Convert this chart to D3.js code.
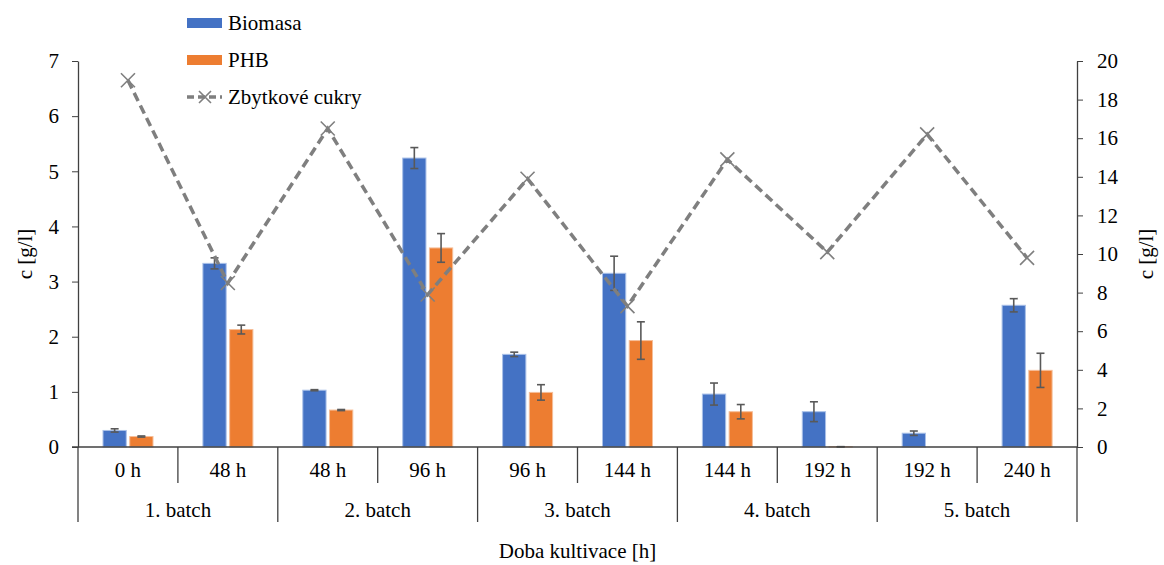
<!DOCTYPE html>
<html>
<head>
<meta charset="utf-8">
<script src="https://cdn.jsdelivr.net/npm/d3@7"></script>
<style>
  body { margin: 0; background: #fff; }
  svg text { font-family: "Liberation Serif", "DejaVu Serif", serif !important; }
</style>
</head>
<body>
<script>
// data
const hours = ["0 h", "48 h", "48 h", "96 h", "96 h", "144 h", "144 h", "192 h", "192 h", "240 h"];
const batches = ["1. batch", "2. batch", "3. batch", "4. batch", "5. batch"];
const biomasa = [0.30, 3.33, 1.03, 5.24, 1.68, 3.15, 0.96, 0.64, 0.25, 2.57];
const biomasaErr = [0.03, 0.10, 0.01, 0.19, 0.04, 0.31, 0.20, 0.18, 0.04, 0.12];
const phb = [0.19, 2.13, 0.67, 3.61, 0.99, 1.93, 0.64, 0.005, 0, 1.39];
const phbErr = [0.01, 0.08, 0.01, 0.26, 0.14, 0.34, 0.13, 0, 0, 0.31];
const cukry = [19.0, 8.5, 16.5, 7.9, 13.9, 7.3, 14.9, 10.1, 16.2, 9.8];
const leftTicks = [0, 1, 2, 3, 4, 5, 6, 7];
const rightTicks = [0, 2, 4, 6, 8, 10, 12, 14, 16, 18, 20];

const width = 1164, height = 565;
const mLeft = 78, mRight = 1077, mTop = 61, mBottom = 447;

const svg = d3.select("body").append("svg")
  .attr("width", width)
  .attr("height", height)
  .attr("font-family", "Liberation Serif");

const idx = d3.range(hours.length);

const x = d3.scaleBand()
  .domain(idx)
  .range([mLeft, mRight]);

const xInner = d3.scaleBand()
  .domain(["Biomasa", "PHB"])
  .range([25, 75])
  .paddingInner(0.13);

const y = d3.scaleLinear().domain([0, 7]).range([mBottom, mTop]);
const y2 = d3.scaleLinear().domain([0, 20]).range([mBottom, mTop]);

const axisColor = "#404040";
const fontSize = "21px";

// left axis
const yAxis = svg.append("g")
  .attr("transform", `translate(${mLeft},0)`)
  .call(d3.axisLeft(y).tickValues(leftTicks).tickFormat(d3.format("d"))
    .tickSize(6).tickPadding(13).tickSizeOuter(0));
yAxis.attr("font-family", "Liberation Serif");
yAxis.select(".domain").attr("stroke", axisColor).attr("stroke-width", 1.3);
yAxis.selectAll(".tick line").attr("stroke", axisColor);
yAxis.selectAll("text").attr("font-size", fontSize).attr("fill", "#000");

// right axis
const y2Axis = svg.append("g")
  .attr("transform", `translate(${mRight},0)`)
  .call(d3.axisRight(y2).tickValues(rightTicks).tickFormat(d3.format("d"))
    .tickSize(6).tickPadding(14).tickSizeOuter(0));
y2Axis.attr("font-family", "Liberation Serif");
y2Axis.select(".domain").attr("stroke", axisColor).attr("stroke-width", 1.3);
y2Axis.selectAll(".tick line").attr("stroke", axisColor);
y2Axis.selectAll("text").attr("font-size", fontSize).attr("fill", "#000");

// bars
const series = [
  { name: "Biomasa", values: biomasa, err: biomasaErr, color: "#4472C4", edge: "#A9C0E8" },
  { name: "PHB", values: phb, err: phbErr, color: "#ED7D31", edge: "#F6BE98" }
];

series.forEach(s => {
  svg.append("g").selectAll("rect")
    .data(idx)
    .join("rect")
    .attr("x", i => x(i) + xInner(s.name))
    .attr("y", i => y(s.values[i]))
    .attr("width", xInner.bandwidth())
    .attr("height", i => y(0) - y(s.values[i]))
    .attr("fill", s.color)
    .attr("stroke", s.edge)
    .attr("stroke-width", 1);

  // error bars
  const eg = svg.append("g").attr("stroke", "#595959").attr("stroke-width", 1.6);
  const ex = i => x(i) + xInner(s.name) + xInner.bandwidth() / 2;
  idx.filter(i => s.values[i] > 0.001).forEach(i => {
    const v = s.values[i], e = s.err[i];
    eg.append("line").attr("x1", ex(i)).attr("x2", ex(i))
      .attr("y1", y(v - e)).attr("y2", y(v + e));
    eg.append("line").attr("x1", ex(i) - 4).attr("x2", ex(i) + 4)
      .attr("y1", y(v - e)).attr("y2", y(v - e));
    eg.append("line").attr("x1", ex(i) - 4).attr("x2", ex(i) + 4)
      .attr("y1", y(v + e)).attr("y2", y(v + e));
  });
});

// x axis baseline
svg.append("line")
  .attr("x1", mLeft - 6).attr("x2", mRight)
  .attr("y1", mBottom).attr("y2", mBottom)
  .attr("stroke", axisColor).attr("stroke-width", 1.3);

// category separators
idx.slice(1).filter(i => i % 2 === 1).forEach(i => {
  svg.append("line")
    .attr("x1", x(i)).attr("x2", x(i))
    .attr("y1", mBottom).attr("y2", 483)
    .attr("stroke", axisColor).attr("stroke-width", 1.3);
});
d3.range(0, hours.length + 1, 2).forEach(i => {
  const xx = i < hours.length ? x(i) : mRight;
  svg.append("line")
    .attr("x1", xx).attr("x2", xx)
    .attr("y1", mBottom).attr("y2", 522)
    .attr("stroke", axisColor).attr("stroke-width", 1.3);
});

// hour labels
svg.append("g").selectAll("text")
  .data(idx)
  .join("text")
  .attr("x", i => x(i) + x.bandwidth() / 2)
  .attr("y", 477)
  .attr("text-anchor", "middle")
  .attr("font-size", fontSize)
  .text(i => hours[i]);

// batch labels
svg.append("g").selectAll("text")
  .data(batches)
  .join("text")
  .attr("x", (d, j) => x(j * 2) + x.bandwidth())
  .attr("y", 517)
  .attr("text-anchor", "middle")
  .attr("font-size", fontSize)
  .text(d => d);

// line for residual sugars
const lx = i => x(i) + x.bandwidth() / 2;
svg.append("path")
  .datum(idx)
  .attr("fill", "none")
  .attr("stroke", "#7F7F7F")
  .attr("stroke-width", 3.5)
  .attr("stroke-dasharray", "9,5")
  .attr("d", d3.line().x(lx).y(i => y2(cukry[i])));

const mk = 7;
svg.append("g").selectAll("path")
  .data(idx)
  .join("path")
  .attr("d", i => `M${lx(i) - mk},${y2(cukry[i]) - mk}L${lx(i) + mk},${y2(cukry[i]) + mk}M${lx(i) - mk},${y2(cukry[i]) + mk}L${lx(i) + mk},${y2(cukry[i]) - mk}`)
  .attr("stroke", "#7F7F7F")
  .attr("stroke-width", 1.6)
  .attr("fill", "none");

// axis titles
svg.append("text")
  .attr("transform", `translate(32,254) rotate(-90)`)
  .attr("text-anchor", "middle")
  .attr("font-size", fontSize)
  .text("c [g/l]");

svg.append("text")
  .attr("transform", `translate(1153,254) rotate(-90)`)
  .attr("text-anchor", "middle")
  .attr("font-size", fontSize)
  .text("c [g/l]");

svg.append("text")
  .attr("x", (mLeft + mRight) / 2)
  .attr("y", 558)
  .attr("text-anchor", "middle")
  .attr("font-size", fontSize)
  .text("Doba kultivace [h]");

// legend
const legend = svg.append("g").attr("transform", "translate(187,0)");
legend.append("rect").attr("x", 0).attr("y", 18).attr("width", 35).attr("height", 10).attr("fill", "#4472C4");
legend.append("text").attr("x", 41).attr("y", 30).attr("font-size", fontSize).text("Biomasa");
legend.append("rect").attr("x", 0).attr("y", 55).attr("width", 35).attr("height", 10).attr("fill", "#ED7D31");
legend.append("text").attr("x", 41).attr("y", 67).attr("font-size", fontSize).text("PHB");
legend.append("line").attr("x1", 0).attr("x2", 35).attr("y1", 97).attr("y2", 97)
  .attr("stroke", "#7F7F7F").attr("stroke-width", 3.5).attr("stroke-dasharray", "7,4");
legend.append("path").attr("d", "M12,91L24,103M12,103L24,91")
  .attr("stroke", "#7F7F7F").attr("stroke-width", 1.6);
legend.append("text").attr("x", 41).attr("y", 104).attr("font-size", fontSize).text("Zbytkové cukry");
</script>
</body>
</html>
